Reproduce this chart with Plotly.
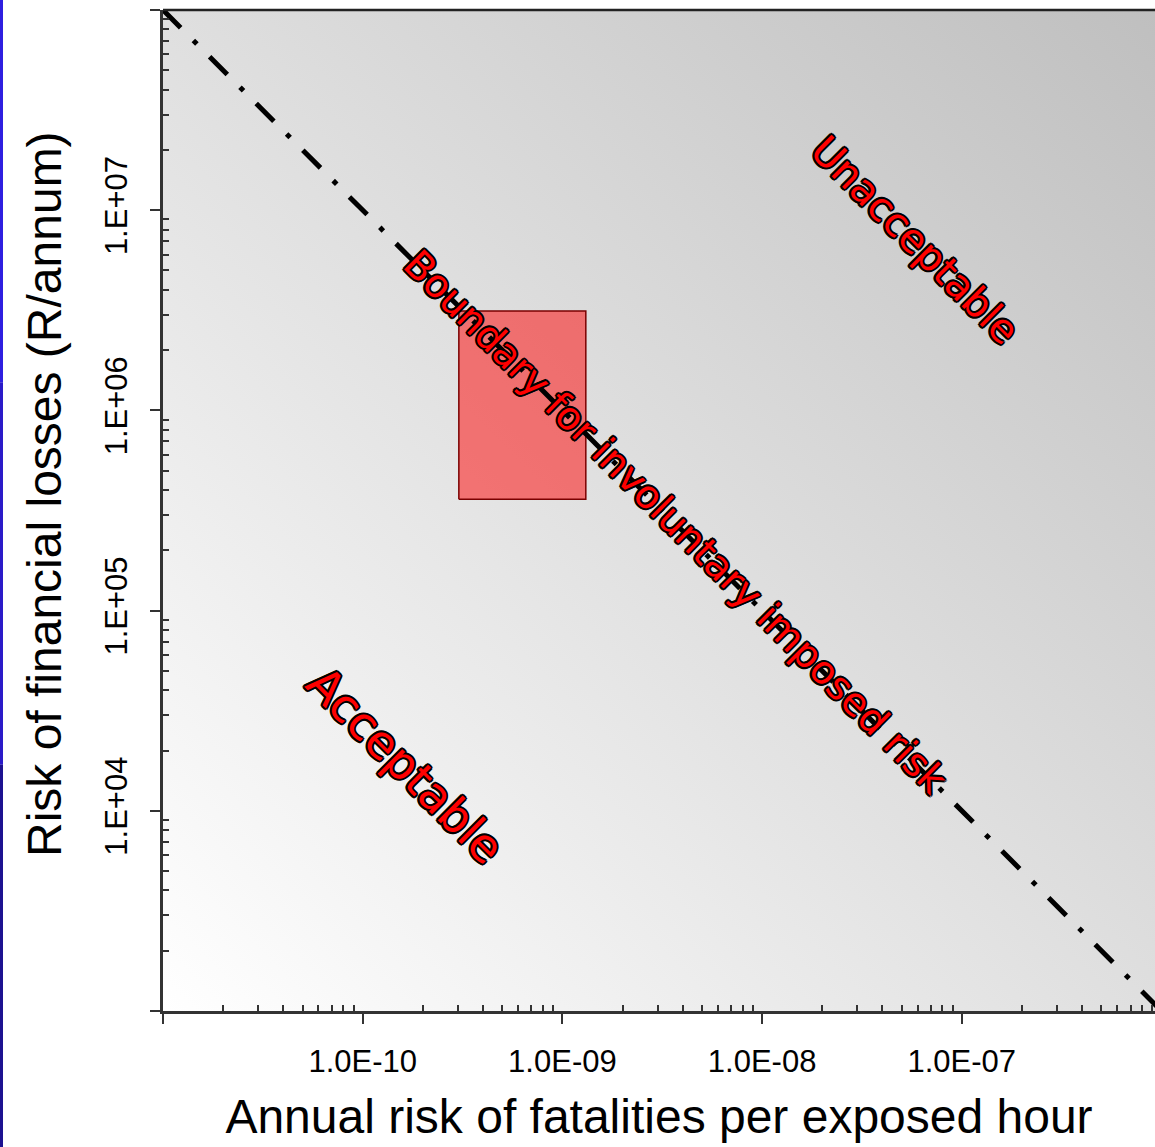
import base64
import numpy as np
import plotly.graph_objects as go

# Boundary line for involuntary imposed risk (fatality risk vs financial risk)
boundary_x = [1e-11, 1e-6]
boundary_y = [1e8, 1e3]

# Current operating region of the plant
region_x = [3.03e-10, 1.31e-9]
region_y = [3.6e5, 3.14e6]

# Axis ticks
x_tick_vals = [1e-11, 1e-10, 1e-9, 1e-8, 1e-7, 1e-6]
x_tick_text = ["", "1.0E-10", "1.0E-09", "1.0E-08", "1.0E-07", ""]
y_tick_vals = [1e3, 1e4, 1e5, 1e6, 1e7, 1e8]
y_tick_text = ["", "1.E+04", "1.E+05", "1.E+06", "1.E+07", ""]

# Zone labels: text, log10(x), log10(y), font size
zone_labels = ["Unacceptable", "Acceptable", "Boundary for involuntary imposed risk"]
zone_label_x = [-7.234, -9.788, -8.436]
zone_label_y = [6.851, 4.229, 5.443]
zone_label_size = [40, 46, 39]

# Minor ticks at 2..9 of every decade
x_minor = [k * 10.0 ** e for e in range(-11, -6) for k in range(2, 10)]
y_minor = [k * 10.0 ** e for e in range(3, 8) for k in range(2, 10)]

# Diagonal grey shading of the plot area (light bottom-left, darker top-right)
svg = (
    '<svg xmlns="http://www.w3.org/2000/svg" width="100" height="100" preserveAspectRatio="none">'
    '<defs><linearGradient id="g" x1="0" y1="1" x2="1" y2="0">'
    '<stop offset="0" stop-color="#ffffff"/>'
    '<stop offset="1" stop-color="#bfbfbf"/>'
    '</linearGradient></defs>'
    '<rect width="100" height="100" fill="url(#g)"/></svg>'
)
bg_src = "data:image/svg+xml;base64," + base64.b64encode(svg.encode()).decode()

fig = go.Figure()

# Operating region box
fig.add_trace(go.Scatter(
    x=[region_x[0], region_x[1], region_x[1], region_x[0], region_x[0]],
    y=[region_y[0], region_y[0], region_y[1], region_y[1], region_y[0]],
    mode="lines", fill="toself",
    fillcolor="rgba(255,0,0,0.5)",
    line=dict(color="#7a0000", width=1.5),
    hoverinfo="skip", showlegend=False,
))

# Dash-dot boundary
fig.add_trace(go.Scatter(
    x=boundary_x, y=boundary_y, mode="lines",
    line=dict(color="black", width=5, dash="25px,18px,5px,18px"),
    hoverinfo="skip", showlegend=False,
))

outline = ", ".join(
    f"{dx}px {dy}px 0 #000"
    for dx, dy in [(-1.5, -1.5), (1.5, -1.5), (-1.5, 1.5), (1.5, 1.5),
                   (0, 2), (0, -2), (2, 0), (-2, 0)]
)
for txt, lx, ly, sz in zip(zone_labels, zone_label_x, zone_label_y, zone_label_size):
    fig.add_annotation(
        x=lx, y=ly, xref="x", yref="y", text=txt, showarrow=False,
        textangle=45,
        font=dict(family="DejaVu Sans", size=sz, color="#ff0000", shadow=outline),
    )

W, H = 1155, 1147
ML, MR, MT, MB = 163, 0, 10, 136
plot_w = W - ML - MR
plot_h = H - MT - MB
px_per_decade = 199.7

tick_font = dict(family="Liberation Sans, Arial", size=31, color="black")
title_font = dict(family="Liberation Sans, Arial", size=48, color="black")

fig.update_layout(
    width=W, height=H,
    margin=dict(l=ML, r=MR, t=MT, b=MB),
    paper_bgcolor="white",
    plot_bgcolor="rgba(0,0,0,0)",
    showlegend=False,
    images=[dict(source=bg_src, xref="paper", yref="paper", x=0, y=1,
                 sizex=1, sizey=1, sizing="stretch", layer="below",
                 xanchor="left", yanchor="top")],
    xaxis=dict(
        type="log", range=[-11, -11 + plot_w / px_per_decade],
        tickmode="array", tickvals=x_tick_vals, ticktext=x_tick_text,
        ticks="outside", ticklen=10, tickwidth=2, tickcolor="#333",
        ticklabelstandoff=11,
        minor=dict(tickmode="array", tickvals=x_minor, ticks="inside",
                   ticklen=6, tickwidth=1.5, tickcolor="#333", showgrid=False),
        showline=True, linecolor="#333", linewidth=3,
        showgrid=False, zeroline=False, tickfont=tick_font,
        title=dict(text="Annual risk of fatalities per exposed hour",
                   font=title_font, standoff=22),
    ),
    yaxis=dict(
        type="log", range=[3, 8],
        tickmode="array", tickvals=y_tick_vals, ticktext=y_tick_text,
        ticks="outside", ticklen=10, tickwidth=2, tickcolor="#333",
        tickangle=-90, ticklabelstandoff=11,
        minor=dict(tickmode="array", tickvals=y_minor, ticks="inside",
                   ticklen=6, tickwidth=1.5, tickcolor="#333", showgrid=False),
        showline=True, linecolor="#333", linewidth=3,
        showgrid=False, zeroline=False, tickfont=tick_font,
    ),
)

# Vertical axis title
fig.add_annotation(
    text="Risk of financial losses (R/annum)", textangle=-90,
    xref="paper", yref="paper", xanchor="center", yanchor="middle",
    x=(45 - ML) / plot_w, y=(H - MB - 494) / plot_h,
    showarrow=False, font=title_font,
)

# Top frame line and blue page edge
fig.add_shape(type="line", xref="paper", yref="paper", x0=0, x1=1, y0=1, y1=1,
              line=dict(color="#222", width=2.5))
edge_x = (1.5 - ML) / plot_w
seg = np.linspace(1 + MT / plot_h, -MB / plot_h, 4)
for (ya, yb), col in zip(zip(seg[:-1], seg[1:]), ["#2f1fe0", "#2a1ac8", "#1d1290"]):
    fig.add_shape(type="line", xref="paper", yref="paper", x0=edge_x, x1=edge_x,
                  y0=ya, y1=yb, line=dict(color=col, width=3))

fig.write_html("out.html")
